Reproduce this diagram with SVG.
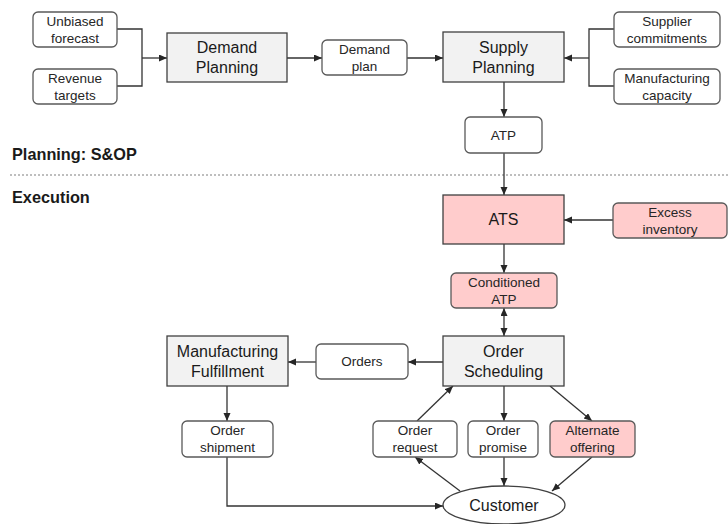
<svg xmlns="http://www.w3.org/2000/svg" width="728" height="524" viewBox="0 0 728 524">
  <defs>
    <marker id="arrow" markerUnits="userSpaceOnUse" markerWidth="9" markerHeight="8" refX="8" refY="3.5" orient="auto-start-reverse">
      <path d="M0,0 L8,3.5 L0,7 z" fill="#262626"/>
    </marker>
    <style>
      .proc { fill: #f2f2f2; stroke: #404040; stroke-width: 1.3; }
      .data { fill: #ffffff; stroke: #595959; stroke-width: 1.3; }
      .pink { fill: #ffcccc; stroke: #595959; stroke-width: 1.3; }
      .pinkproc { fill: #ffcccc; stroke: #404040; stroke-width: 1.3; }
      .big { font-family: "Liberation Sans", Arial, sans-serif; font-size: 16px; fill: #1a1a1a; text-anchor: middle; }
      .small { font-family: "Liberation Sans", Arial, sans-serif; font-size: 13.5px; fill: #262626; text-anchor: middle; }
      .head { font-family: "Liberation Sans", Arial, sans-serif; font-size: 16.3px; font-weight: bold; fill: #1a1a1a; }
      .conn path { fill: none; stroke: #333333; stroke-width: 1.3; }
      .conn .arr { marker-end: url(#arrow); }
    </style>
  </defs>

  <rect width="728" height="524" fill="#ffffff"/>

  <!-- section labels and divider -->
  <text class="head" x="12" y="160">Planning: S&amp;OP</text>
  <line x1="10" y1="175" x2="728" y2="175" stroke="#7f7f7f" stroke-width="1.2" stroke-dasharray="2,2"/>
  <text class="head" x="12" y="203">Execution</text>

  <!-- connectors -->
  <g id="connectors" class="conn">
    <path d="M117,29 H142 V86 H117"/>
    <path class="arr" d="M142,58 H167"/>
    <path class="arr" d="M287,58 H322"/>
    <path class="arr" d="M407,58 H443"/>
    <path d="M614,29 H589 V86 H614"/>
    <path class="arr" d="M589,58 H564"/>
    <path class="arr" d="M504,82 V117"/>
    <path class="arr" d="M504,153 V195"/>
    <path class="arr" d="M613,220 H564"/>
    <path class="arr" d="M504,244 V273"/>
    <path class="arr" d="M504,308 V336" marker-start="url(#arrow)"/>
    <path class="arr" d="M443,362 H408"/>
    <path class="arr" d="M316,362 H288"/>
    <path class="arr" d="M227,386 V421"/>
    <path class="arr" d="M227,457 V506 H443"/>
    <path class="arr" d="M417,421 L453,386"/>
    <path class="arr" d="M504,386 V421"/>
    <path class="arr" d="M550,386 L592,421"/>
    <path class="arr" d="M460,491 L415,457"/>
    <path class="arr" d="M504,457 V486"/>
    <path class="arr" d="M592,457 L552,491"/>
  </g>

  <!-- planning inputs -->
  <g id="unbiased-forecast">
    <rect class="data" x="33" y="12" width="84" height="35" rx="5"/>
    <text class="small" x="75" y="25.8">Unbiased</text>
    <text class="small" x="75" y="42.8">forecast</text>
  </g>
  <g id="revenue-targets">
    <rect class="data" x="33" y="69" width="84" height="35" rx="5"/>
    <text class="small" x="75" y="82.8">Revenue</text>
    <text class="small" x="75" y="99.8">targets</text>
  </g>
  <g id="demand-planning">
    <rect class="proc" x="167" y="33" width="120" height="49"/>
    <text class="big" x="227" y="53.3">Demand</text>
    <text class="big" x="227" y="73.3">Planning</text>
  </g>
  <g id="demand-plan">
    <rect class="data" x="322" y="40" width="85" height="35" rx="5"/>
    <text class="small" x="364.5" y="53.8">Demand</text>
    <text class="small" x="364.5" y="70.8">plan</text>
  </g>
  <g id="supply-planning">
    <rect class="proc" x="443" y="32" width="121" height="50"/>
    <text class="big" x="503.5" y="52.8">Supply</text>
    <text class="big" x="503.5" y="72.8">Planning</text>
  </g>
  <g id="supplier-commitments">
    <rect class="data" x="614" y="12" width="106" height="35" rx="5"/>
    <text class="small" x="667" y="25.8">Supplier</text>
    <text class="small" x="667" y="42.8">commitments</text>
  </g>
  <g id="manufacturing-capacity">
    <rect class="data" x="614" y="69" width="106" height="35" rx="5"/>
    <text class="small" x="667" y="82.8">Manufacturing</text>
    <text class="small" x="667" y="99.8">capacity</text>
  </g>
  <g id="atp">
    <rect class="data" x="465" y="117" width="77" height="36" rx="5"/>
    <text class="small" x="503.5" y="139.8">ATP</text>
  </g>

  <!-- execution -->
  <g id="ats">
    <rect class="pinkproc" x="443" y="195" width="121" height="49"/>
    <text class="big" x="503.5" y="225.3">ATS</text>
  </g>
  <g id="excess-inventory">
    <rect class="pink" x="613" y="203" width="114" height="35" rx="5"/>
    <text class="small" x="670" y="216.8">Excess</text>
    <text class="small" x="670" y="233.8">inventory</text>
  </g>
  <g id="conditioned-atp">
    <rect class="pink" x="451" y="273" width="106" height="35" rx="5"/>
    <text class="small" x="504" y="286.8">Conditioned</text>
    <text class="small" x="504" y="303.8">ATP</text>
  </g>
  <g id="order-scheduling">
    <rect class="proc" x="443" y="336" width="121" height="50"/>
    <text class="big" x="503.5" y="356.8">Order</text>
    <text class="big" x="503.5" y="376.8">Scheduling</text>
  </g>
  <g id="orders">
    <rect class="data" x="316" y="344" width="92" height="35" rx="5"/>
    <text class="small" x="362" y="366.3">Orders</text>
  </g>
  <g id="manufacturing-fulfillment">
    <rect class="proc" x="167" y="336" width="121" height="50"/>
    <text class="big" x="227.5" y="356.8">Manufacturing</text>
    <text class="big" x="227.5" y="376.8">Fulfillment</text>
  </g>
  <g id="order-shipment">
    <rect class="data" x="182" y="421" width="91" height="36" rx="5"/>
    <text class="small" x="227.5" y="435.3">Order</text>
    <text class="small" x="227.5" y="452.3">shipment</text>
  </g>
  <g id="order-request">
    <rect class="data" x="373" y="421" width="84" height="36" rx="5"/>
    <text class="small" x="415" y="435.3">Order</text>
    <text class="small" x="415" y="452.3">request</text>
  </g>
  <g id="order-promise">
    <rect class="data" x="468" y="421" width="70" height="36" rx="5"/>
    <text class="small" x="503" y="435.3">Order</text>
    <text class="small" x="503" y="452.3">promise</text>
  </g>
  <g id="alternate-offering">
    <rect class="pink" x="550" y="421" width="85" height="36" rx="5"/>
    <text class="small" x="592.5" y="435.3">Alternate</text>
    <text class="small" x="592.5" y="452.3">offering</text>
  </g>
  <g id="customer">
    <ellipse class="data" cx="504" cy="505" rx="61" ry="19" style="stroke:#404040"/>
    <text class="big" x="504" y="510.7">Customer</text>
  </g>
</svg>
